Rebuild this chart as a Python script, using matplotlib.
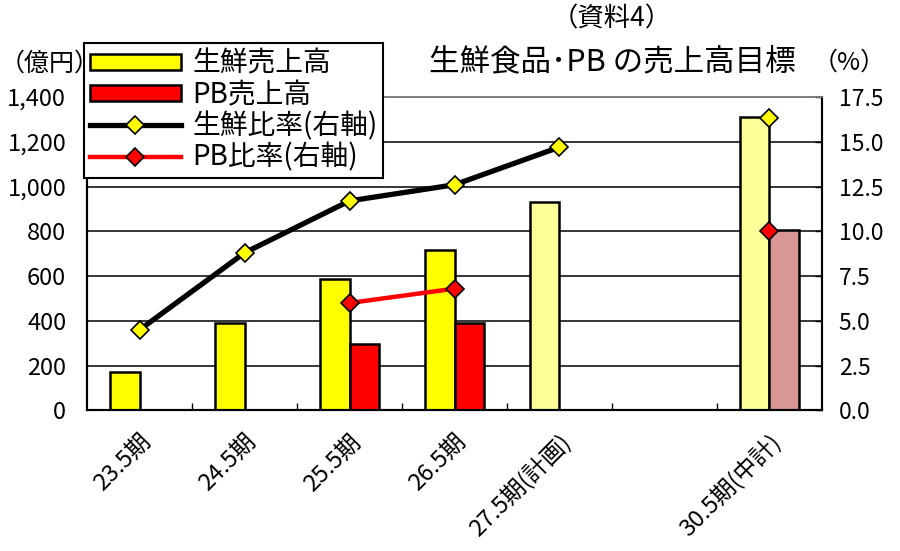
import numpy as np
import matplotlib.pyplot as plt
from matplotlib.patches import Patch
from matplotlib.ticker import FuncFormatter, MultipleLocator

plt.rcParams['font.family'] = ['Noto Sans CJK JP', 'DejaVu Sans']

# data
categories = ['23.5期', '24.5期', '25.5期', '26.5期', '27.5期(計画)', '', '30.5期(中計)']
fresh_sales = [173, 389, 587, 717, 933, np.nan, 1310]        # 億円
pb_sales = [np.nan, np.nan, 299, 389, np.nan, np.nan, 807]    # 億円
fresh_ratio = [4.5, 8.8, 11.7, 12.6, 14.7, np.nan, 16.3]      # %
pb_ratio = [np.nan, np.nan, 6.0, 6.8, np.nan, np.nan, 10.0]   # %

# colours per bar (planned values are lighter)
fresh_colors = ['#FFFF00', '#FFFF00', '#FFFF00', '#FFFF00', '#FFFF99', '#FFFF99', '#FFFF99']
pb_colors = ['#FF0000', '#FF0000', '#FF0000', '#FF0000', '#FF0000', '#FF0000', '#DA9694']

x = np.arange(len(categories))
w = 0.285

fig = plt.figure(figsize=(9, 5.51), dpi=100)
ax = fig.add_axes([0.0967, 0.255, 0.8166, 0.569])
ax2 = ax.twinx()

# grid
ax.set_axisbelow(True)
ax.yaxis.grid(True, color='black', linewidth=1.1)

# bars
fresh_bars = ax.bar(x - w / 2, np.nan_to_num(fresh_sales), w, color=fresh_colors,
                    edgecolor='black', linewidth=1.8, zorder=2)
pb_bars = ax.bar(x + w / 2, np.nan_to_num(pb_sales), w, color=pb_colors,
                 edgecolor='black', linewidth=1.8, zorder=2)
for i in range(len(x)):
    if np.isnan(fresh_sales[i]):
        fresh_bars[i].set_visible(False)
    if np.isnan(pb_sales[i]):
        pb_bars[i].set_visible(False)

# ratio lines (right axis)
ln1, = ax2.plot(x, fresh_ratio, color='black', linewidth=3.8, marker='D', markersize=9,
                markerfacecolor='#FFFF00', markeredgecolor='black', markeredgewidth=1.2)
ln2, = ax2.plot(x, pb_ratio, color='#FF0000', linewidth=3.2, marker='D', markersize=9,
                markerfacecolor='#FF0000', markeredgecolor='black', markeredgewidth=1.2)

ax.set_xlim(-0.5, len(categories) - 0.5)
ax.set_ylim(0, 1400)
ax2.set_ylim(0, 17.5)
ax.yaxis.set_major_locator(MultipleLocator(200))
ax.yaxis.set_major_formatter(FuncFormatter(lambda v, p: f'{int(v):,}'))
ax2.yaxis.set_major_locator(MultipleLocator(2.5))
ax2.yaxis.set_major_formatter(FuncFormatter(lambda v, p: f'{v:.1f}'))

ax.set_xticks(x)
ax.set_xticklabels(categories, rotation=45, ha='right', va='top', rotation_mode='anchor',
                   fontsize=17)
ax.set_xticks(x[:-1] + 0.5, minor=True)
ax.tick_params(axis='x', which='major', length=0, pad=14)
ax.tick_params(axis='x', which='minor', direction='in', length=5, width=1, color='black')
ax.tick_params(axis='y', direction='in', length=0, labelsize=17, pad=15)
ax2.tick_params(axis='y', direction='in', length=5, width=1, labelsize=16.5, pad=12)

for a in (ax, ax2):
    for s in ('left', 'bottom', 'right'):
        a.spines[s].set_color('black')
        a.spines[s].set_linewidth(1.5)
    a.spines['top'].set_color('#808080')
    a.spines['top'].set_linewidth(1.2)

# titles and axis units
fig.text(0.68, 0.965, '（資料4）', ha='center', va='center', fontsize=19)
fig.text(0.68, 0.888, '生鮮食品･PB の売上高目標', ha='center', va='center', fontsize=22)
fig.text(0.944, 0.887, '（%）', ha='center', va='center', fontsize=18)
fig.text(0.0, 0.885, '（億円）', ha='left', va='center', fontsize=18)

fresh_handle = Patch(facecolor='#FFFF00', edgecolor='black', linewidth=1.8)
pb_handle = Patch(facecolor='#FF0000', edgecolor='black', linewidth=1.8)
leg = fig.legend([fresh_handle, pb_handle, ln1, ln2],
                 ['生鮮売上高', 'PB売上高', '生鮮比率(右軸)', 'PB比率(右軸)'],
                 loc='upper left', bbox_to_anchor=(84 / 900, 1 - 43 / 551),
                 borderaxespad=0, fontsize=20, frameon=True, fancybox=False,
                 edgecolor='black', framealpha=1, handlelength=3.3, handleheight=0.5,
                 handletextpad=0.4, labelspacing=0.05, borderpad=0.2)
leg.get_frame().set_linewidth(1.5)
leg.set_zorder(10)

fig.savefig('out.png', dpi=100)
